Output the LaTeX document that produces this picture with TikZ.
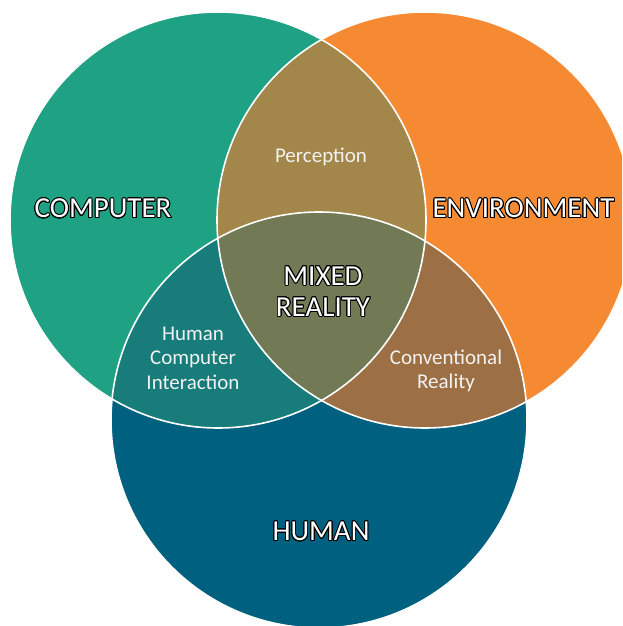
\documentclass[tikz,border=0pt]{standalone}
\usepackage{fontspec}
\setmainfont{Carlito}
\usepackage{contour}
\contourlength{0.9pt}
\contournumber{24}
\definecolor{compgreen}{RGB}{31,161,131}
\definecolor{envorange}{RGB}{246,138,51}
\definecolor{humblue}{RGB}{0,96,127}
\definecolor{percol}{RGB}{163,134,74}
\definecolor{hcicol}{RGB}{23,124,122}
\definecolor{convcol}{RGB}{156,111,68}
\definecolor{mixcol}{RGB}{114,122,85}
\tikzset{
  bigname/.style={text=white,font=\fontsize{29}{31}\selectfont,align=center},
  smallname/.style={text=white!90!gray,font=\fontsize{21}{24.5}\selectfont,align=center},
  rim/.style={draw=white,line width=1.6pt}
}
\newcommand{\rad}{208}
\begin{document}
\begin{tikzpicture}[x=1pt,y=-1pt,line join=round,line cap=round]
	\useasboundingbox (0,0) rectangle (622,626);
	\clip (0,0) rectangle (622,626);
	%centres of the three circles
	\coordinate (C) at (218,220);
	\coordinate (E) at (425,220);
	\coordinate (H) at (319,420);
	\fill[compgreen] (C) circle (\rad);
	\fill[envorange] (E) circle (\rad);
	\fill[humblue] (H) circle (\rad);
	%overlaps
	\begin{scope}\clip (C) circle (\rad);\fill[percol] (E) circle (\rad);\end{scope}
	\begin{scope}\clip (C) circle (\rad);\fill[hcicol] (H) circle (\rad);\end{scope}
	\begin{scope}\clip (E) circle (\rad);\fill[convcol] (H) circle (\rad);\end{scope}
	\begin{scope}\clip (C) circle (\rad);\clip (E) circle (\rad);\fill[mixcol] (H) circle (\rad);\end{scope}
	\foreach \c in {C,E,H}
	\draw[rim] (\c) circle (\rad);
	%labels
	\node[bigname] (computer) at (103,209) {\contour{black}{COMPUTER}};
	\node[bigname,anchor=west] (environment) at (429,209) {\contour{black}{ENVIRONMENT}};
	\node[bigname] (human) at (321,532) {\contour{black}{HUMAN}};
	\node[bigname] (mixed) at (323,292) {\contour{black}{MIXED}\\\contour{black}{REALITY}};
	\node[smallname] (perception) at (321,157) {Perception};
	\node[smallname] (hci) at (193,358) {Human\\Computer\\Interaction};
	\node[smallname] (conventional) at (446,371) {Conventional\\Reality};
\end{tikzpicture}
\end{document}
